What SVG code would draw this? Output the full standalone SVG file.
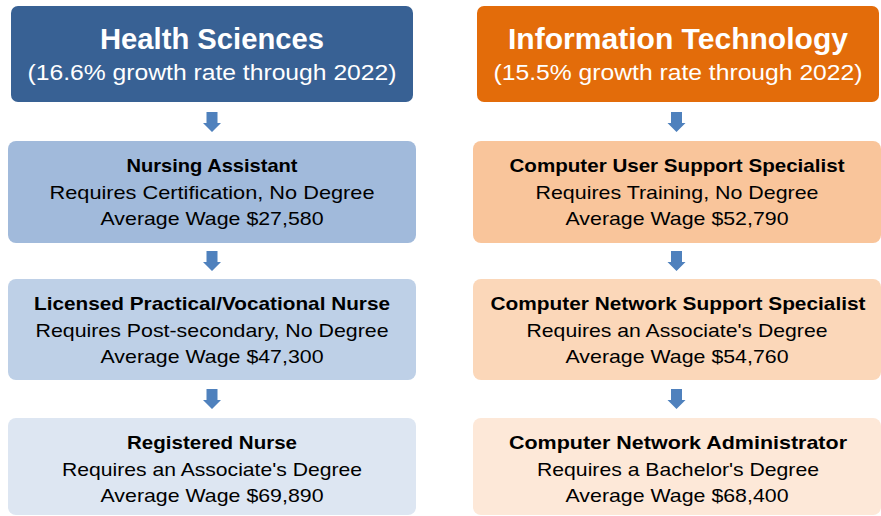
<svg xmlns="http://www.w3.org/2000/svg" width="881" height="516" viewBox="0 0 881 516">
<style>
text{font-family:"Liberation Sans",Arial,sans-serif;text-anchor:middle}
.ht{font-size:29px;font-weight:bold;fill:#fff}
.hs{font-size:22px;fill:#fff}
.b{font-size:19px;font-weight:bold;fill:#000}
.r{font-size:19px;fill:#000}
.arr{fill:#4F81BD}
</style>
<rect width="881" height="516" fill="#fff"/>
<g id="connectors">
<path class="arr" d="M206.5 112h11v11h3.5l-9 9-9-9h3.5z"/>
<path class="arr" d="M206.5 251h11v11h3.5l-9 9-9-9h3.5z"/>
<path class="arr" d="M206.5 389h11v11h3.5l-9 9-9-9h3.5z"/>
<path class="arr" d="M671 112h11v11h3.5l-9 9-9-9h3.5z"/>
<path class="arr" d="M671 251h11v11h3.5l-9 9-9-9h3.5z"/>
<path class="arr" d="M671 389h11v11h3.5l-9 9-9-9h3.5z"/>
</g>
<g id="health-header">
<rect x="11" y="6" width="402" height="96" rx="7" fill="#386194"/>
<text class="ht" x="212" y="49" textLength="224" lengthAdjust="spacingAndGlyphs">Health Sciences</text>
<text class="hs" x="212" y="80" textLength="369" lengthAdjust="spacingAndGlyphs">(16.6% growth rate through 2022)</text>
</g>
<g id="it-header">
<rect x="477" y="6" width="402" height="96" rx="7" fill="#E36C0A"/>
<text class="ht" x="678" y="49" textLength="340" lengthAdjust="spacingAndGlyphs">Information Technology</text>
<text class="hs" x="678" y="80" textLength="369" lengthAdjust="spacingAndGlyphs">(15.5% growth rate through 2022)</text>
</g>
<g id="nursing-assistant">
<rect x="8" y="141" width="408" height="102" rx="8" fill="#A1BADB"/>
<text class="b" x="212" y="172" textLength="171" lengthAdjust="spacingAndGlyphs">Nursing Assistant</text>
<text class="r" x="212" y="199" textLength="325" lengthAdjust="spacingAndGlyphs">Requires Certification, No Degree</text>
<text class="r" x="212" y="225" textLength="223" lengthAdjust="spacingAndGlyphs">Average Wage $27,580</text>
</g>
<g id="lpn">
<rect x="8" y="279" width="408" height="101" rx="8" fill="#BED0E7"/>
<text class="b" x="212" y="310" textLength="356" lengthAdjust="spacingAndGlyphs">Licensed Practical/Vocational Nurse</text>
<text class="r" x="212" y="337" textLength="353" lengthAdjust="spacingAndGlyphs">Requires Post-secondary, No Degree</text>
<text class="r" x="212" y="363" textLength="223" lengthAdjust="spacingAndGlyphs">Average Wage $47,300</text>
</g>
<g id="registered-nurse">
<rect x="8" y="418" width="408" height="97" rx="8" fill="#DDE6F2"/>
<text class="b" x="212" y="449" textLength="170" lengthAdjust="spacingAndGlyphs">Registered Nurse</text>
<text class="r" x="212" y="476" textLength="300" lengthAdjust="spacingAndGlyphs">Requires an Associate's Degree</text>
<text class="r" x="212" y="502" textLength="223" lengthAdjust="spacingAndGlyphs">Average Wage $69,890</text>
</g>
<g id="user-support">
<rect x="473" y="141" width="408" height="102" rx="8" fill="#F9C59B"/>
<text class="b" x="677" y="172" textLength="335" lengthAdjust="spacingAndGlyphs">Computer User Support Specialist</text>
<text class="r" x="677" y="199" textLength="283" lengthAdjust="spacingAndGlyphs">Requires Training, No Degree</text>
<text class="r" x="677" y="225" textLength="223" lengthAdjust="spacingAndGlyphs">Average Wage $52,790</text>
</g>
<g id="network-support">
<rect x="473" y="279" width="408" height="101" rx="8" fill="#FBD7B9"/>
<text class="b" x="678" y="310" textLength="375" lengthAdjust="spacingAndGlyphs">Computer Network Support Specialist</text>
<text class="r" x="677" y="337" textLength="301" lengthAdjust="spacingAndGlyphs">Requires an Associate's Degree</text>
<text class="r" x="677" y="363" textLength="223" lengthAdjust="spacingAndGlyphs">Average Wage $54,760</text>
</g>
<g id="network-admin">
<rect x="473" y="418" width="408" height="97" rx="8" fill="#FDE8D8"/>
<text class="b" x="678" y="449" textLength="338" lengthAdjust="spacingAndGlyphs">Computer Network Administrator</text>
<text class="r" x="678" y="476" textLength="282" lengthAdjust="spacingAndGlyphs">Requires a Bachelor's Degree</text>
<text class="r" x="677" y="502" textLength="223" lengthAdjust="spacingAndGlyphs">Average Wage $68,400</text>
</g>
</svg>
